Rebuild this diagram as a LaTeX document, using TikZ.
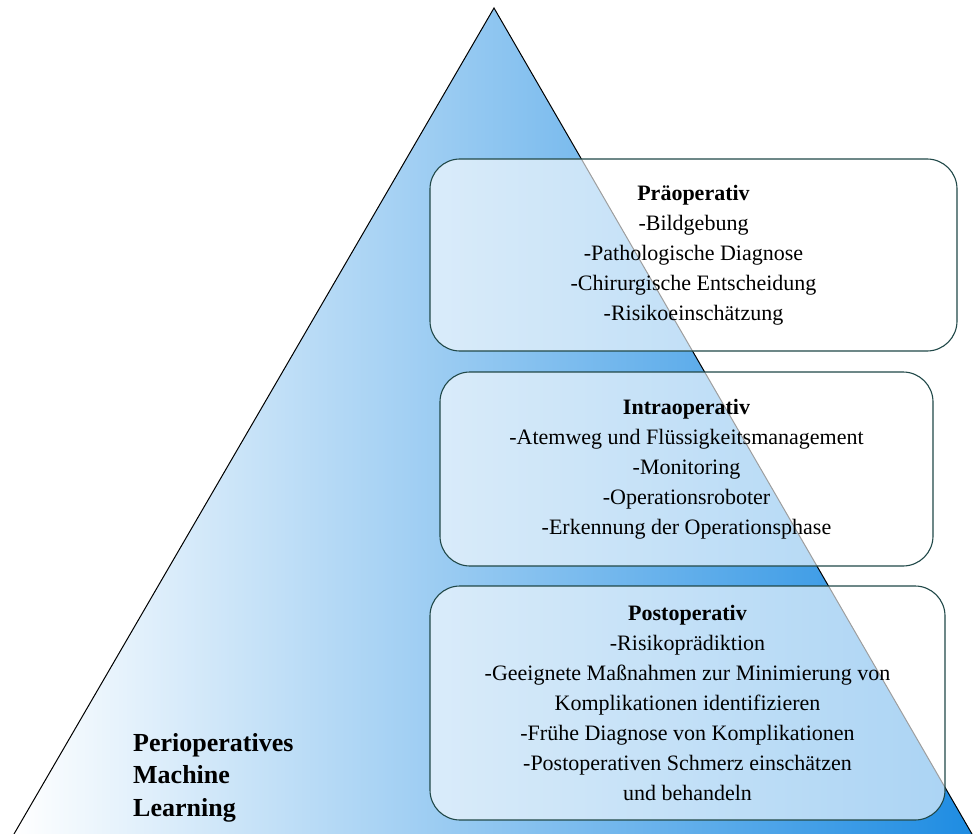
\documentclass[tikz,border=0pt]{standalone}
\usepackage{fontspec}
\setmainfont{Liberation Serif}
\definecolor{pyrblue}{RGB}{30,140,226}
\definecolor{boxline}{RGB}{32,72,72}
\tikzset{
  phase box/.style={
    draw=boxline,line width=1.1pt,rounded corners=30pt,
    fill=white,fill opacity=0.62,text opacity=1,
    align=center,inner sep=0pt,
    font=\fontsize{22pt}{30pt}\selectfont
  },
  pyr side/.style={black,line width=1pt},
  pyr title/.style={font=\fontsize{26pt}{32.5pt}\selectfont\bfseries,align=left,inner sep=0pt}
}

\begin{document}
\begin{tikzpicture}[x=1pt,y=-1pt]
  \useasboundingbox (0,0) rectangle (974,834);
  \coordinate (apex) at (494,8);
  \coordinate (bl) at (14,834);
  \coordinate (br) at (972,834);
  % pyramid with a light-to-blue shading
  \shade[left color=white,right color=pyrblue] (apex)--(bl)--(br)--cycle;
  \draw[pyr side] (bl)--(apex)--(br);
  \node[pyr title,anchor=north west] (pml) at (133,733)
    {Perioperatives\\Machine\\Learning};
  % the three phases
  \node[phase box,minimum width=527pt,minimum height=192pt] (prae) at (693.5,255)
    {\textbf{Präoperativ}\\-Bildgebung\\-Pathologische Diagnose\\
     -Chirurgische Entscheidung\\-Risikoeinschätzung};
  \node[phase box,minimum width=493pt,minimum height=194pt] (intra) at (686.5,469)
    {\textbf{Intraoperativ}\\-Atemweg und Flüssigkeitsmanagement\\-Monitoring\\
     -Operationsroboter\\-Erkennung der Operationsphase};
  \node[phase box,minimum width=515pt,minimum height=234pt] (post) at (687.5,703)
    {\textbf{Postoperativ}\\-Risikoprädiktion\\
     -Geeignete Maßnahmen zur Minimierung von\\Komplikationen identifizieren\\
     -Frühe Diagnose von Komplikationen\\-Postoperativen Schmerz einschätzen\\
     und behandeln};
\end{tikzpicture}
\end{document}
